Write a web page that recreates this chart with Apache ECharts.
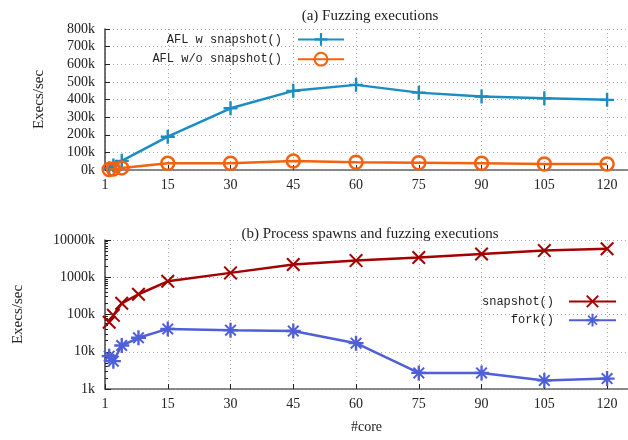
<!DOCTYPE html>
<html>
<head>
<meta charset="utf-8">
<script src="https://cdn.jsdelivr.net/npm/echarts@6/dist/echarts.min.js"></script>
<style>
  html, body { margin: 0; padding: 0; background: #fff; }
  #chart { width: 628px; height: 440px; }
</style>
</head>
<body>
<div id="chart"></div>
<script>
// (a) fuzzing executions, Execs/sec in k
const coresTop = [1, 2, 4, 15, 30, 45, 60, 75, 90, 105, 120];
const aflSnapshot = [10, 25, 52, 189, 350, 449, 483, 439, 417, 407, 398];
const aflNoSnapshot = [3, 5, 12, 38, 38, 51, 44, 41, 38, 34, 34];

// (b) process spawns and fuzzing executions, Execs/sec in k (log)
const coresBottom = [1, 2, 4, 8, 15, 30, 45, 60, 75, 90, 105, 120];
const snapshotRate = [62, 95, 200, 350, 780, 1310, 2200, 2800, 3400, 4200, 5200, 5800];
const forkRate = [7.6, 5.6, 14.7, 23.7, 41, 38, 36, 17, 2.7, 2.7, 1.7, 1.9];

const xTicks = [1, 15, 30, 45, 60, 75, 90, 105, 120];

const SERIF = "'Liberation Serif', 'DejaVu Serif', serif";
const MONO = "'Liberation Mono', 'DejaVu Sans Mono', monospace";

const PLUS = "path://M-1.2,-7H1.2V-1.2H7V1.2H1.2V7H-1.2V1.2H-7V-1.2H-1.2Z";
const CROSS = "path://M-6.3,-5L-5,-6.3L0,-1.3L5,-6.3L6.3,-5L1.3,0L6.3,5L5,6.3L0,1.3L-5,6.3L-6.3,5L-1.3,0Z";
const STAR = "path://M-1.1,-7H1.1V-1.1H7V1.1H1.1V7H-1.1V1.1H-7V-1.1H-1.1Z" +
  "M-5.6,-4.3L-4.3,-5.6L0,-1.3L4.3,-5.6L5.6,-4.3L1.3,0L5.6,4.3L4.3,5.6L0,1.3L-4.3,5.6L-5.6,4.3L-1.3,0Z";

const pairs = (xs, ys) => xs.map((x, i) => [x, ys[i]]);

const chart = echarts.init(document.getElementById("chart"), null, { renderer: "canvas" });

function xAxis(gridIndex, withName) {
  return {
    type: "value",
    gridIndex,
    min: 0,
    max: 125,
    interval: 15,
    name: withName ? "#core" : "",
    nameLocation: "middle",
    nameGap: 31,
    nameTextStyle: { fontFamily: SERIF, fontSize: 14, color: "#222" },
    axisLine: { lineStyle: { color: "#666", width: 1.5 } },
    axisTick: { inside: true, length: 5, lineStyle: { color: "#222" } },
    axisLabel: {
      margin: 8,
      fontFamily: SERIF,
      fontSize: 14,
      color: "#222",
      showMaxLabel: false,
      formatter: v => (v === 0 ? String(xTicks[0]) : v > 120 ? "" : String(v)),
    },
    splitLine: { show: true, lineStyle: { color: "#aaa", type: [1, 3], width: 1 } },
  };
}

chart.setOption({
  animation: false,
  backgroundColor: "#fff",
  title: [
    { text: "(a) Fuzzing executions", left: 365, top: 4, textAlign: "center",
      textStyle: { fontFamily: SERIF, fontSize: 15, fontWeight: "normal", color: "#222" } },
    { text: "(b) Process spawns and fuzzing executions", left: 365, top: 222, textAlign: "center",
      textStyle: { fontFamily: SERIF, fontSize: 15, fontWeight: "normal", color: "#222" } },
  ],
  legend: [
    {
      data: ["AFL w snapshot()", "AFL w/o snapshot()"],
      orient: "vertical", align: "right", right: 283, top: 33, padding: 0,
      itemWidth: 46, itemHeight: 16, itemGap: 6,
      textStyle: { fontFamily: MONO, fontSize: 12, color: "#222", padding: [0, 11, 0, 0] },
    },
    {
      data: ["snapshot()", "fork()"],
      orient: "vertical", align: "right", right: 11, top: 295, padding: 0,
      itemWidth: 47, itemHeight: 16, itemGap: 6,
      textStyle: { fontFamily: MONO, fontSize: 12, color: "#222", padding: [0, 10, 0, 0] },
    },
  ],
  grid: [
    { left: 105, right: 0, top: 29, height: 141 },
    { left: 105, right: 0, top: 240, height: 149 },
  ],
  xAxis: [xAxis(0, false), xAxis(1, true)],
  yAxis: [
    {
      type: "value", gridIndex: 0, min: 0, max: 800, interval: 100,
      name: "Execs/sec", nameLocation: "middle", nameGap: 58,
      nameTextStyle: { fontFamily: SERIF, fontSize: 15, color: "#222" },
      axisLine: { show: true, lineStyle: { color: "#444", width: 1.5 } },
      axisTick: { show: true, inside: true, length: 5, lineStyle: { color: "#222" } },
      axisLabel: { margin: 10, fontFamily: SERIF, fontSize: 14, color: "#222", formatter: v => v + "k" },
      splitLine: { lineStyle: { color: "#aaa", type: [1, 3], width: 1 } },
    },
    {
      type: "log", gridIndex: 1, min: 1, max: 10000, logBase: 10,
      name: "Execs/sec", nameLocation: "middle", nameGap: 79,
      nameTextStyle: { fontFamily: SERIF, fontSize: 15, color: "#222" },
      axisLine: { show: true, lineStyle: { color: "#444", width: 1.5 } },
      axisTick: { show: true, inside: true, length: 6, lineStyle: { color: "#222" } },
      minorTick: { show: true, splitNumber: 9, length: 3, lineStyle: { color: "#222" } },
      axisLabel: { margin: 10, fontFamily: SERIF, fontSize: 14, color: "#222", formatter: v => v + "k" },
      splitLine: { lineStyle: { color: "#aaa", type: [1, 3], width: 1 } },
    },
  ],
  series: [
    {
      name: "AFL w snapshot()", type: "line", xAxisIndex: 0, yAxisIndex: 0,
      data: pairs(coresTop, aflSnapshot),
      symbol: PLUS, symbolSize: 14,
      lineStyle: { color: "#1a8dc2", width: 2.5 },
      itemStyle: { color: "#1a8dc2" },
      z: 3,
    },
    {
      name: "AFL w/o snapshot()", type: "line", xAxisIndex: 0, yAxisIndex: 0,
      data: pairs(coresTop, aflNoSnapshot),
      symbol: "circle", symbolSize: 13,
      lineStyle: { color: "#f4610f", width: 2.5 },
      itemStyle: { color: "rgba(0,0,0,0)", borderColor: "#f4610f", borderWidth: 2.5 },
      z: 4,
    },
    {
      name: "snapshot()", type: "line", xAxisIndex: 1, yAxisIndex: 1,
      data: pairs(coresBottom, snapshotRate),
      symbol: CROSS, symbolSize: 14,
      lineStyle: { color: "#a50000", width: 2.5 },
      itemStyle: { color: "#a50000" },
    },
    {
      name: "fork()", type: "line", xAxisIndex: 1, yAxisIndex: 1,
      data: pairs(coresBottom, forkRate),
      symbol: STAR, symbolSize: 15,
      lineStyle: { color: "#4f5fd8", width: 2.5 },
      itemStyle: { color: "#4f5fd8" },
    },
  ],
});
</script>
</body>
</html>
